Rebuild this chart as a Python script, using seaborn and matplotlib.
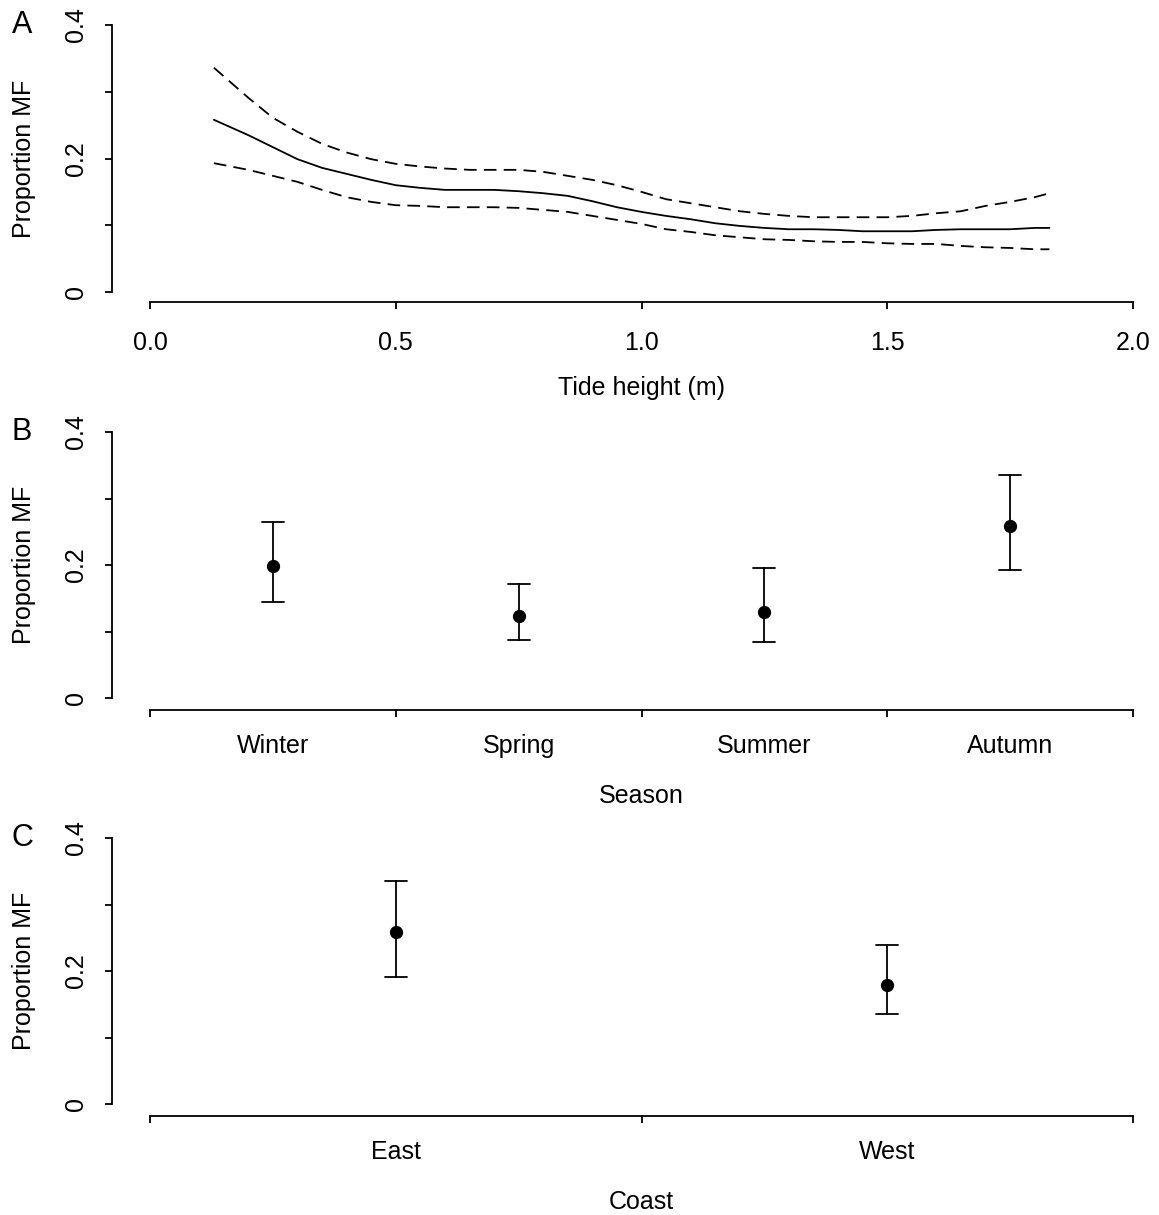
import matplotlib
matplotlib.use("Agg")
import matplotlib.pyplot as plt
import matplotlib.transforms as mtransforms
import numpy as np
import pandas as pd
import seaborn as sns
from matplotlib.ticker import FixedLocator

# Panel A: fitted proportion vs tide height with upper/lower bands
tide_height = [0.13, 0.20, 0.25, 0.30, 0.35, 0.40, 0.45, 0.50, 0.55, 0.60, 0.65, 0.70,
               0.75, 0.80, 0.85, 0.90, 0.95, 1.00, 1.05, 1.10, 1.15, 1.20, 1.25, 1.30,
               1.35, 1.40, 1.45, 1.50, 1.55, 1.60, 1.65, 1.70, 1.75, 1.80, 1.83]
prop_fit = [0.258, 0.235, 0.217, 0.199, 0.186, 0.177, 0.168, 0.160, 0.156, 0.153, 0.153, 0.153,
            0.151, 0.148, 0.144, 0.136, 0.127, 0.120, 0.114, 0.109, 0.103, 0.099, 0.096, 0.094,
            0.094, 0.093, 0.091, 0.091, 0.091, 0.093, 0.094, 0.094, 0.094, 0.096, 0.096]
prop_upper = [0.336, 0.291, 0.261, 0.240, 0.222, 0.209, 0.199, 0.192, 0.188, 0.185, 0.183, 0.183,
              0.183, 0.180, 0.174, 0.168, 0.160, 0.150, 0.139, 0.133, 0.127, 0.121, 0.117, 0.114,
              0.112, 0.112, 0.112, 0.112, 0.114, 0.118, 0.121, 0.129, 0.135, 0.142, 0.148]
prop_lower = [0.193, 0.183, 0.174, 0.165, 0.153, 0.142, 0.135, 0.130, 0.129, 0.127, 0.127, 0.127,
              0.126, 0.123, 0.120, 0.114, 0.108, 0.102, 0.094, 0.090, 0.085, 0.082, 0.079, 0.078,
              0.076, 0.075, 0.075, 0.073, 0.072, 0.072, 0.069, 0.067, 0.066, 0.064, 0.064]

# Panel B: season
seasons = ["Winter", "Spring", "Summer", "Autumn"]
season_fit = [0.198, 0.123, 0.129, 0.258]
season_lower = [0.144, 0.087, 0.084, 0.192]
season_upper = [0.264, 0.171, 0.195, 0.335]

# Panel C: coast
coasts = ["East", "West"]
coast_fit = [0.258, 0.179]
coast_lower = [0.191, 0.135]
coast_upper = [0.335, 0.239]

W, H = 1159, 1215
LW = 1.3
FS = 18

sns.set_style("ticks")
plt.rcParams["font.family"] = ["Liberation Sans", "DejaVu Sans"]
plt.rcParams["axes.edgecolor"] = "black"
plt.rcParams["axes.labelcolor"] = "black"
plt.rcParams["xtick.color"] = "black"
plt.rcParams["ytick.color"] = "black"
plt.rcParams["text.color"] = "black"


def add_panel(fig, top_px, bottom_px):
    return fig.add_axes([112 / W, 1 - bottom_px / H, (1150 - 112) / W, (bottom_px - top_px) / H])


def style_axes(ax, x_mid, xlabel):
    sns.despine(ax=ax)
    ax.spines["left"].set_bounds(0, 0.4)
    ax.spines["left"].set_linewidth(LW)
    ax.spines["bottom"].set_linewidth(LW)
    ax.set_yticks([0, 0.1, 0.2, 0.3, 0.4])
    ax.set_yticklabels(["0", "", "0.2", "", "0.4"])
    ax.tick_params(axis="y", length=5, width=LW, labelsize=FS, pad=12, labelrotation=90)
    for lab in ax.get_yticklabels():
        lab.set_va("center")
    ax.set_ylabel("Proportion MF", fontsize=FS)
    ax.yaxis.label.set_va("center")
    ax.yaxis.set_label_coords(-0.085, 0.2,
                              transform=mtransforms.blended_transform_factory(ax.transAxes, ax.transData))
    ax.set_xlabel(xlabel, fontsize=FS)
    ax.xaxis.label.set_va("center")
    bb = ax.get_position()
    ax.xaxis.set_label_coords(x_mid, -86 / (bb.height * H),
                              transform=mtransforms.blended_transform_factory(ax.transData, ax.transAxes))


def category_panel(ax, cats, fit, lower, upper, px_per_unit, capsize):
    # lower / fit / upper per category: median gives the fit, range gives the interval
    df = pd.DataFrame({
        "cat": cats * 3,
        "value": list(lower) + list(fit) + list(upper),
    })
    sns.pointplot(data=df, x="cat", y="value", order=cats, estimator="median",
                  errorbar=lambda v: (v.min(), v.max()), capsize=capsize,
                  linestyle="none", marker="o", markersize=7.5, color="black",
                  err_kws={"linewidth": LW}, ax=ax)
    n = len(cats)
    ax.set_xlim(-0.5 - 38 / px_per_unit, n - 0.5 + 17 / px_per_unit)
    ax.spines["bottom"].set_bounds(-0.5, n - 0.5)
    ax.set_xticks(range(n))
    ax.set_xticklabels(cats)
    ax.xaxis.set_minor_locator(FixedLocator(np.arange(n + 1) - 0.5))
    ax.tick_params(axis="x", which="major", length=0, labelsize=FS, pad=17.5)
    ax.tick_params(axis="x", which="minor", length=5, width=LW)


fig = plt.figure(figsize=(W / 100, H / 100), dpi=100)

# Panel A
axA = add_panel(fig, 14, 302)
tide_df = pd.DataFrame({"tide": tide_height, "fit": prop_fit,
                        "upper": prop_upper, "lower": prop_lower})
sns.lineplot(data=tide_df, x="tide", y="fit", color="black", linewidth=LW, ax=axA)
for col in ["upper", "lower"]:
    sns.lineplot(data=tide_df, x="tide", y=col, color="black", linewidth=LW,
                 dashes=False, linestyle=(0, (7, 4)), ax=axA)
axA.set_xlim(-38 / 491.5, 2 + 17 / 491.5)
axA.set_ylim(-10 / 667.5, 0.4 + 11 / 667.5)
axA.spines["bottom"].set_bounds(0, 2)
axA.set_xticks([0.0, 0.5, 1.0, 1.5, 2.0])
axA.set_xticklabels(["0.0", "0.5", "1.0", "1.5", "2.0"])
axA.tick_params(axis="x", length=5, width=LW, labelsize=FS, pad=16)
style_axes(axA, 1.0, "Tide height (m)")

# Panel B
axB = add_panel(fig, 421, 710)
category_panel(axB, seasons, season_fit, season_lower, season_upper, 245.75, 0.09)
axB.set_ylim(-12 / 665, 0.4 + 11 / 665)
style_axes(axB, 1.5, "Season")

# Panel C
axC = add_panel(fig, 827, 1116)
category_panel(axC, coasts, coast_fit, coast_lower, coast_upper, 491.5, 0.045)
axC.set_ylim(-12 / 665, 0.4 + 11 / 665)
style_axes(axC, 0.5, "Coast")

for letter, ypx in [("A", 25), ("B", 432), ("C", 838)]:
    fig.text(22 / W, 1 - ypx / H, letter, ha="center", va="center", fontsize=22)

fig.savefig("out.png", dpi=100)
